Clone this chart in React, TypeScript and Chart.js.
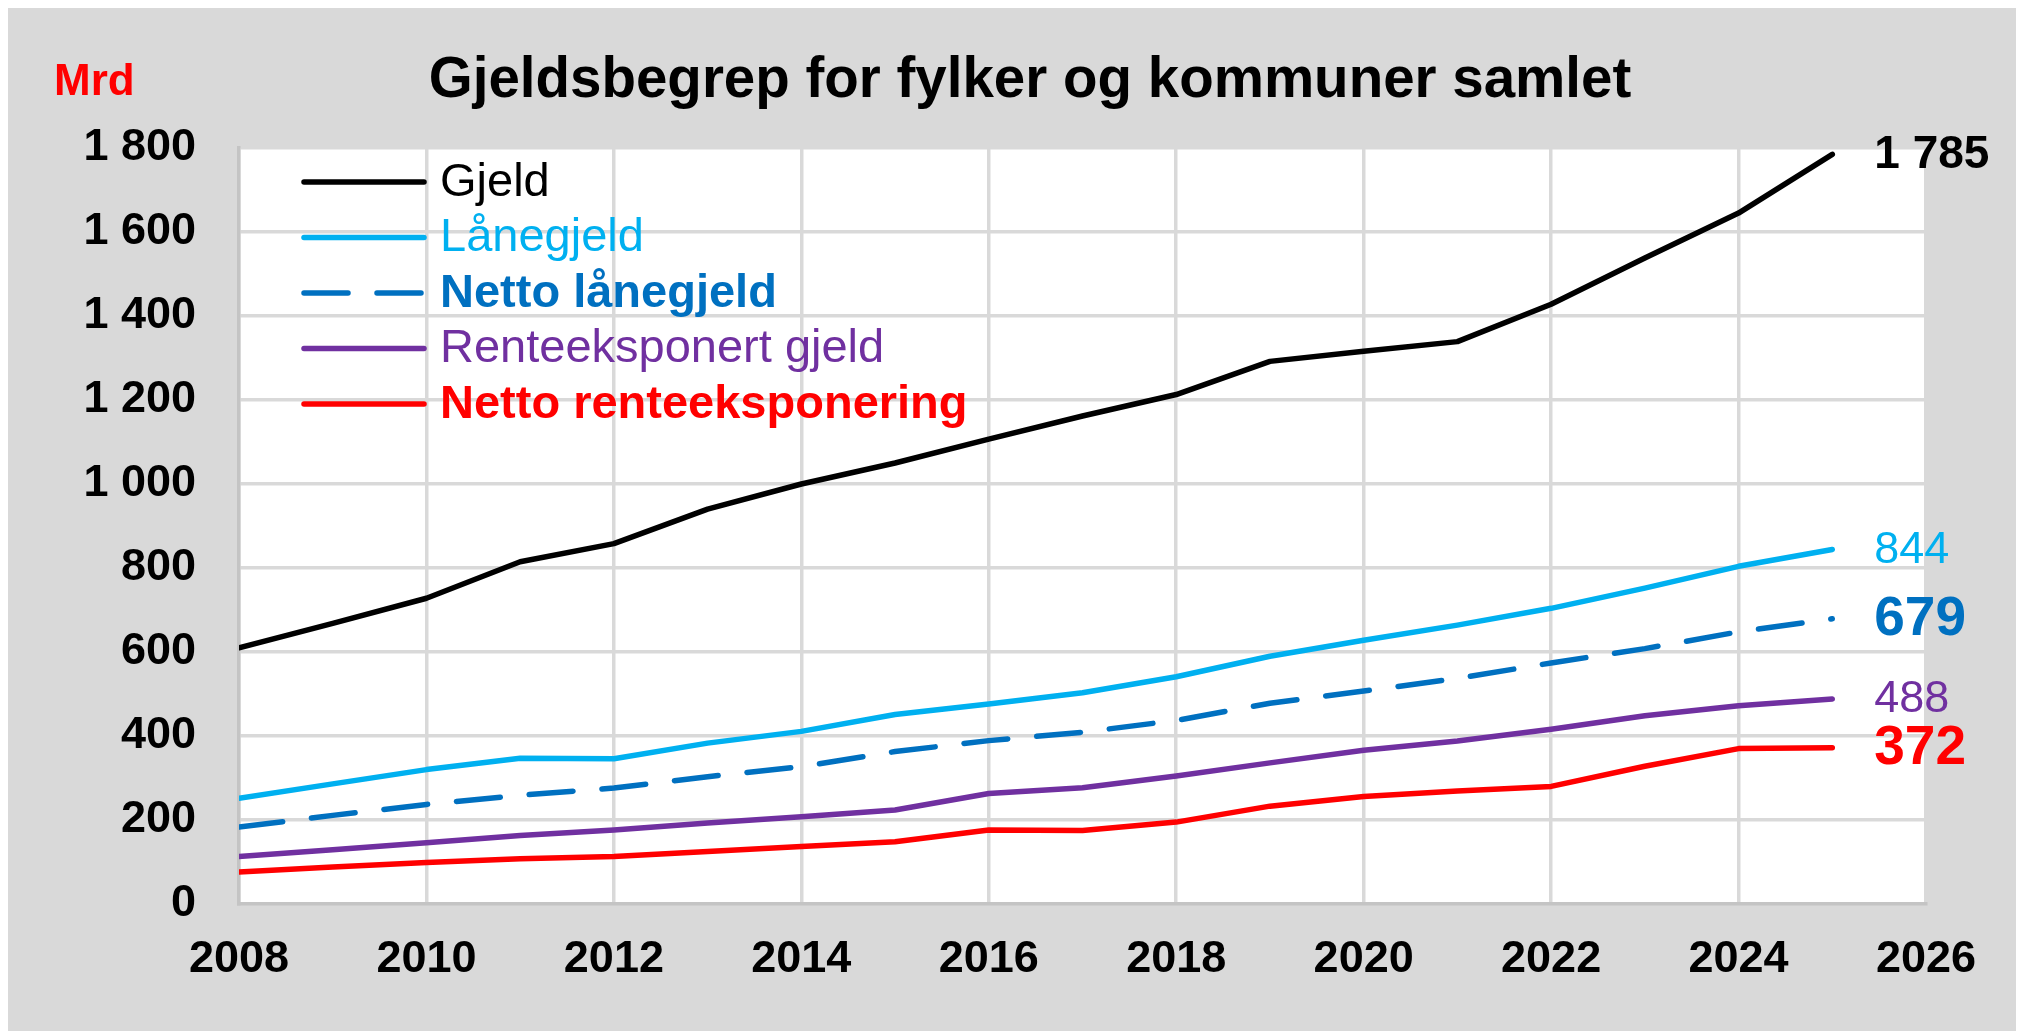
import React, { useEffect, useRef } from "react";
import { Chart, registerables } from "chart.js";

Chart.register(...registerables);

// ---------- data ----------
const years = [2008, 2009, 2010, 2011, 2012, 2013, 2014, 2015, 2016, 2017, 2018, 2019, 2020, 2021, 2022, 2023, 2024, 2025];
const gjeld = [610, 668, 728, 815, 858, 940, 1000, 1050, 1107, 1162, 1213, 1292, 1316, 1339, 1428, 1538, 1645, 1785];
const laanegjeld = [252, 286, 320, 347, 346, 383, 411, 451, 476, 503, 541, 590, 628, 664, 704, 752, 804, 844];
const nettoLaanegjeld = [183, 211, 237, 259, 276, 303, 327, 363, 389, 409, 437, 478, 507, 537, 574, 608, 648, 679];
const renteeksponertGjeld = [113, 129, 146, 163, 176, 193, 208, 224, 263, 277, 305, 336, 366, 388, 416, 448, 472, 488];
const nettoRenteeksponering = [76, 88, 99, 108, 113, 125, 137, 148, 176, 175, 195, 233, 256, 269, 280, 328, 370, 372];

const seriesNames = ["Gjeld", "Lånegjeld", "Netto lånegjeld", "Renteeksponert gjeld", "Netto renteeksponering"];
const xTickValues = [2008, 2010, 2012, 2014, 2016, 2018, 2020, 2022, 2024, 2026];
const yTickValues = [0, 200, 400, 600, 800, 1000, 1200, 1400, 1600, 1800];
const yTickLabels = ["0", "200", "400", "600", "800", "1 000", "1 200", "1 400", "1 600", "1 800"];
const titleText = "Gjeldsbegrep for fylker og kommuner samlet";
const unitText = "Mrd";

// ---------- styles ----------
const W = 2016;
const H = 1023;
const FONT = "'Liberation Sans', Arial, Helvetica, sans-serif";
const LINE_W = 5.5;
const seriesColors = ["#000000", "#00B0F0", "#0070C0", "#7030A0", "#FF0000"];
const seriesDash: number[][] = [[], [], [44, 29], [], []];
const legendBold = [false, false, true, false, true];
const endLabelFonts = [
  `bold 46px ${FONT}`,
  `45px ${FONT}`,
  `bold 55px ${FONT}`,
  `45px ${FONT}`,
  `bold 55px ${FONT}`,
];

const fmt = (v: number) =>
  v >= 1000 ? `${Math.floor(v / 1000)} ${String(v % 1000).padStart(3, "0")}` : String(v);

const decorPlugin = {
  id: "decor",
  beforeDraw(chart: any) {
    const { ctx, chartArea: a } = chart;
    ctx.save();
    ctx.fillStyle = "#D9D9D9";
    ctx.fillRect(0, 0, chart.width, chart.height);
    ctx.fillStyle = "#FFFFFF";
    ctx.fillRect(a.left, a.top, a.right - a.left, a.bottom - a.top);
    ctx.restore();
  },
  afterDraw(chart: any) {
    const { ctx } = chart;
    ctx.save();
    // title
    ctx.fillStyle = "#000000";
    ctx.font = `bold 56.5px ${FONT}`;
    ctx.textAlign = "center";
    ctx.textBaseline = "alphabetic";
    ctx.fillText(titleText, 1022, 89);
    // unit
    ctx.fillStyle = "#FF0000";
    ctx.font = `bold 44px ${FONT}`;
    ctx.textAlign = "left";
    ctx.fillText(unitText, 46, 87);

    // legend
    const ds = chart.data.datasets;
    ds.forEach((d: any, i: number) => {
      const y = 174 + i * 55.5;
      ctx.strokeStyle = d.borderColor;
      ctx.lineWidth = LINE_W;
      ctx.setLineDash(seriesDash[i]);
      ctx.lineCap = "round";
      ctx.beginPath();
      ctx.moveTo(296, y);
      ctx.lineTo(416, y);
      ctx.stroke();
      ctx.setLineDash([]);
      ctx.fillStyle = d.borderColor;
      ctx.font = `${legendBold[i] ? "bold " : ""}47px ${FONT}`;
      ctx.textAlign = "left";
      ctx.textBaseline = "middle";
      ctx.fillText(d.label, 432, y + 1);
    });

    // end labels
    const xs = chart.scales.x;
    const ys = chart.scales.y;
    ds.forEach((d: any, i: number) => {
      const last = d.data[d.data.length - 1];
      const px = xs.getPixelForValue(last.x) + 42;
      const py = ys.getPixelForValue(last.y);
      ctx.fillStyle = d.borderColor;
      ctx.font = endLabelFonts[i];
      ctx.textAlign = "left";
      ctx.textBaseline = "middle";
      ctx.fillText(fmt(last.y), px, py + 1);
    });
    ctx.restore();
  },
};

export default function App() {
  const ref = useRef<HTMLCanvasElement | null>(null);

  useEffect(() => {
    document.documentElement.style.overflow = "hidden";
    document.body.style.overflow = "hidden";
    const canvas = ref.current;
    if (!canvas) return;
    const allSeries = [gjeld, laanegjeld, nettoLaanegjeld, renteeksponertGjeld, nettoRenteeksponering];
    const datasets = allSeries.map((vals, i) => ({
      label: seriesNames[i],
      data: years.map((yr, j) => ({ x: yr, y: vals[j] })),
      borderColor: seriesColors[i],
      backgroundColor: seriesColors[i],
      borderWidth: LINE_W,
      borderDash: seriesDash[i],
      borderCapStyle: "round",
      borderJoinStyle: "round",
      pointRadius: 0,
      pointHoverRadius: 0,
      tension: 0,
      fill: false,
    }));

    const tickFont = { family: FONT, size: 45, weight: "bold" as const };

    const chart = new Chart(canvas, {
      type: "line",
      data: { datasets } as any,
      options: {
        animation: false,
        responsive: false,
        maintainAspectRatio: false,
        devicePixelRatio: 1,
        layout: { padding: { top: 140, left: 0, right: 98, bottom: 0 } },
        plugins: {
          legend: { display: false },
          title: { display: false },
          tooltip: { enabled: false },
        },
        scales: {
          x: {
            type: "linear",
            min: 2008,
            max: 2026,
            afterBuildTicks: (s: any) => {
              s.ticks = xTickValues.map((v) => ({ value: v }));
            },
            afterFit: (s: any) => {
              s.height = 127;
            },
            ticks: {
              font: tickFont,
              color: "#000000",
              padding: 29,
              maxRotation: 0,
              autoSkip: false,
              callback: (v: any) => String(v),
            },
            grid: { color: "#D9D9D9", lineWidth: 3.5, drawTicks: false },
            border: { display: true, color: "#C4C4C4", width: 3.5 },
          },
          y: {
            type: "linear",
            min: 0,
            max: 1800,
            afterBuildTicks: (s: any) => {
              s.ticks = yTickValues.map((v) => ({ value: v }));
            },
            afterFit: (s: any) => {
              s.width = 231;
            },
            ticks: {
              font: tickFont,
              color: "#000000",
              padding: 43,
              autoSkip: false,
              callback: (v: any) => {
                const idx = yTickValues.indexOf(Number(v));
                return idx >= 0 ? yTickLabels[idx] : "";
              },
            },
            grid: { color: "#D9D9D9", lineWidth: 3.5, drawTicks: false },
            border: { display: true, color: "#C4C4C4", width: 3.5 },
          },
        },
      } as any,
      plugins: [decorPlugin],
    });
    return () => chart.destroy();
  }, []);

  return (
    <div style={{ width: W, height: H, background: "#D9D9D9" }}>
      <canvas ref={ref} width={W} height={H} style={{ display: "block", width: W, height: H }} />
    </div>
  );
}
